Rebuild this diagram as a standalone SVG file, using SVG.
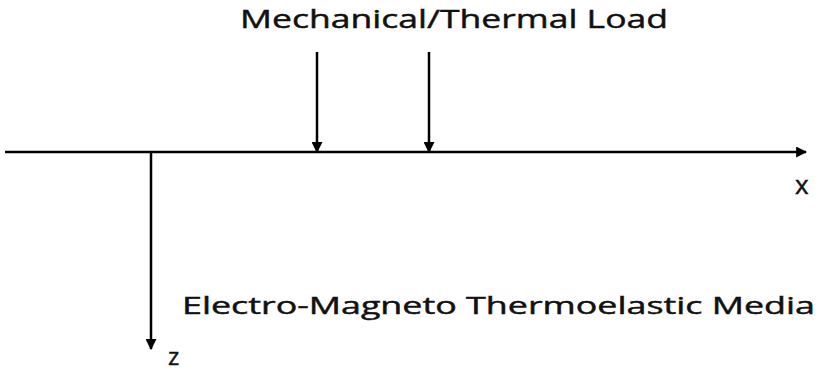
<svg xmlns="http://www.w3.org/2000/svg" width="821" height="373" viewBox="0 0 821 373">
<style>
.t{font-family:"Open Sans","Liberation Sans",sans-serif;font-size:24px;fill:#111;stroke:#111;stroke-width:0.45}
.big{font-size:26px}
.l{stroke:#000;stroke-width:2.5;fill:none}
</style>
<defs>
<marker id="ah" viewBox="0 0 10 10" refX="9" refY="5" markerWidth="4.4" markerHeight="4.4" orient="auto" markerUnits="strokeWidth">
<path d="M0,0 L10,5 L0,10 Z" fill="#000"/>
</marker>
</defs>
<rect width="821" height="373" fill="#fff"/>
<g id="connectors">
<line class="l" x1="5" y1="152" x2="806" y2="152" marker-end="url(#ah)"/>
<line class="l" x1="151" y1="152" x2="151" y2="349" marker-end="url(#ah)"/>
<line class="l" x1="317" y1="52" x2="317" y2="152" marker-end="url(#ah)"/>
<line class="l" x1="429" y1="52" x2="429" y2="152" marker-end="url(#ah)"/>
</g>
<g id="load-label"><text class="t big" x="240" y="28" textLength="428" lengthAdjust="spacingAndGlyphs">Mechanical/Thermal Load</text></g>
<g id="x-label"><text class="t big" x="795" y="194">x</text></g>
<g id="z-label"><text class="t" x="168" y="365">z</text></g>
<g id="media-label"><text class="t" x="182" y="314" textLength="633" lengthAdjust="spacingAndGlyphs">Electro-Magneto Thermoelastic Media</text></g>
</svg>
